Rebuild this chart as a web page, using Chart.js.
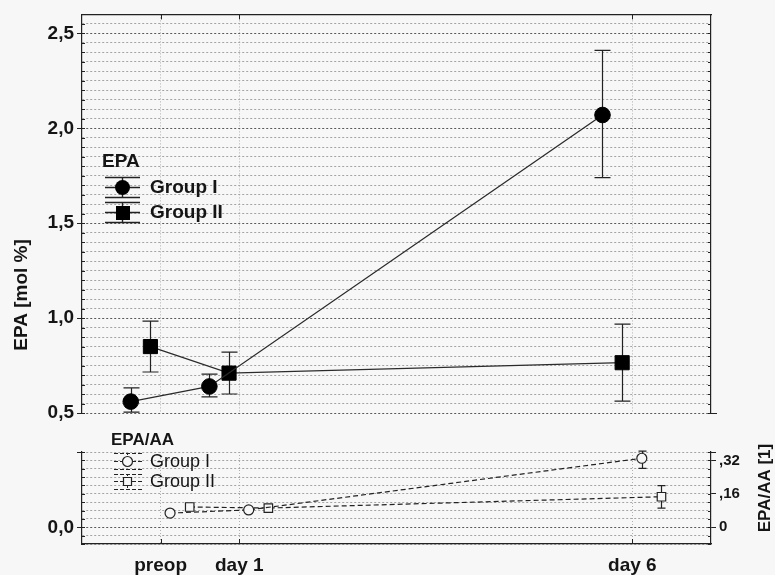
<!DOCTYPE html>
<html>
<head>
<meta charset="utf-8">
<script src="https://cdn.jsdelivr.net/npm/chart.js@4/dist/chart.umd.min.js"></script>
<style>
  html, body { margin: 0; padding: 0; background: #f7f7f7; }
  #wrap { position: relative; width: 775px; height: 575px; overflow: hidden; }
  #epaChart { position: absolute; left: 0; top: 0; }
  #ratioChart { position: absolute; left: 0; top: 420px; }
</style>
</head>
<body>
<div id="wrap">
  <canvas id="epaChart" width="775" height="445"></canvas>
  <canvas id="ratioChart" width="775" height="155"></canvas>
</div>
<script>
// time points (days after surgery)
const days = [0, 1, 6];
const dayLabels = ['preop', 'day 1', 'day 6'];

// EPA [mol %] - mean, lower and upper error bar
const epaGroup1 = [0.56, 0.64, 2.07];
const epaGroup1Low = [0.505, 0.585, 1.74];
const epaGroup1High = [0.632, 0.705, 2.41];
const epaGroup2 = [0.85, 0.71, 0.765];
const epaGroup2Low = [0.716, 0.60, 0.563];
const epaGroup2High = [0.984, 0.821, 0.968];

// EPA/AA ratio
const ratioGroup1 = [0.068, 0.083, 0.33];
const ratioGroup1Low = [0.066, 0.081, 0.282];
const ratioGroup1High = [0.070, 0.085, 0.364];
const ratioGroup2 = [0.097, 0.092, 0.146];
const ratioGroup2Low = [0.095, 0.090, 0.092];
const ratioGroup2High = [0.099, 0.094, 0.199];

// tick labels
const epaTickValues = [0.5, 1.0, 1.5, 2.0, 2.5];
const epaTickLabels = ['0,5', '1,0', '1,5', '2,0', '2,5'];
const ratioLeftValues = [0];
const ratioLeftLabels = ['0,0'];
const ratioRightValues = [0, 0.16, 0.32];
const ratioRightLabels = ['0', ',16', ',32'];

// small horizontal shift so the groups don't overlap
const epaShift = [-0.38, -0.13];
const ratioShift = [0.12, 0.37];

const FONT = "'Liberation Sans', Arial, sans-serif";
const INK = '#151515';

function stepTicks(min, max, step) {
  const out = [];
  const n = Math.round((max - min) / step);
  for (let i = 0; i <= n; i++) out.push({ value: +(min + i * step).toFixed(4) });
  return out;
}
function labelFor(values, labels, v) {
  const i = values.findIndex(t => Math.abs(t - v) < 1e-6);
  return i < 0 ? '' : labels[i];
}
function isIn(values, v) {
  return values.some(t => Math.abs(t - v) < 1e-6);
}

// vertical error bars with caps, drawn under the markers
const errorBars = {
  id: 'errorBars',
  beforeDatasetsDraw(chart) {
    const ctx = chart.ctx;
    chart.data.datasets.forEach((ds, di) => {
      if (!ds.errLow) return;
      const meta = chart.getDatasetMeta(di);
      const ys = chart.scales[meta.yAxisID];
      ctx.save();
      ctx.strokeStyle = '#222';
      ctx.lineWidth = 1.2;
      meta.data.forEach((pt, i) => {
        const x = Math.round(pt.x) + 0.5;
        const yl = ys.getPixelForValue(ds.errLow[i]);
        const yh = ys.getPixelForValue(ds.errHigh[i]);
        ctx.beginPath();
        ctx.moveTo(x, yl); ctx.lineTo(x, yh);
        ctx.moveTo(x - ds.capHalf, yl); ctx.lineTo(x + ds.capHalf, yl);
        ctx.moveTo(x - ds.capHalf, yh); ctx.lineTo(x + ds.capHalf, yh);
        ctx.stroke();
      });
      ctx.restore();
    });
  }
};

// small inner tick marks on the frame
const frameTicks = {
  id: 'frameTicks',
  afterDraw(chart, args, opts) {
    const { ctx, chartArea: a } = chart;
    const xs = chart.scales.x, ys = chart.scales.y;
    ctx.save();
    ctx.strokeStyle = '#222';
    ctx.lineWidth = 1;
    ctx.beginPath();
    xs.ticks.forEach(t => {
      const px = Math.round(xs.getPixelForValue(t.value)) + 0.5;
      if (opts.top) { ctx.moveTo(px, a.top); ctx.lineTo(px, a.top + 5); }
      else { ctx.moveTo(px, a.bottom); ctx.lineTo(px, a.bottom - 5); }
    });
    ys.ticks.forEach(t => {
      const py = Math.round(ys.getPixelForValue(t.value)) + 0.5;
      ctx.moveTo(a.left, py); ctx.lineTo(a.left + 3, py);
      ctx.moveTo(a.right, py); ctx.lineTo(a.right - 3, py);
    });
    if (opts.top) {
      ctx.moveTo(a.right, a.bottom + 0.5); ctx.lineTo(a.right + 6, a.bottom + 0.5);
    } else {
      ctx.moveTo(a.left - 5, a.top + 0.5); ctx.lineTo(a.left, a.top + 0.5);
      ctx.moveTo(a.right, a.top + 0.5); ctx.lineTo(a.right + 5, a.top + 0.5);
    }
    ctx.stroke();
    ctx.restore();
  }
};

// legend + axis titles of the upper panel
const epaDecor = {
  id: 'epaDecor',
  afterDraw(chart) {
    const ctx = chart.ctx;
    ctx.save();
    ctx.fillStyle = INK;
    ctx.textBaseline = 'middle';
    // y title
    ctx.save();
    ctx.translate(22, 295);
    ctx.rotate(-Math.PI / 2);
    ctx.textAlign = 'center';
    ctx.font = 'bold 19px ' + FONT;
    ctx.fillText('EPA [mol %]', 0, 0);
    ctx.restore();
    // legend
    ctx.font = 'bold 19px ' + FONT;
    ctx.fillText('EPA', 102, 162);
    const rows = [
      { y: 187, top: 177, bot: 197, name: 'Group I', shape: 'circle' },
      { y: 212, top: 202, bot: 222, name: 'Group II', shape: 'rect' }
    ];
    ctx.strokeStyle = '#222';
    ctx.lineWidth = 1.4;
    rows.forEach(r => {
      ctx.beginPath();
      ctx.moveTo(105, r.top + 0.5); ctx.lineTo(140, r.top + 0.5);
      ctx.moveTo(105, r.bot + 0.5); ctx.lineTo(140, r.bot + 0.5);
      ctx.moveTo(105, r.y + 0.5); ctx.lineTo(140, r.y + 0.5);
      ctx.moveTo(122.5, r.top); ctx.lineTo(122.5, r.bot);
      ctx.stroke();
      ctx.fillStyle = '#000';
      ctx.beginPath();
      if (r.shape === 'circle') ctx.arc(122.5, r.y + 0.5, 7.5, 0, Math.PI * 2);
      else ctx.rect(116, r.y - 6, 14, 14);
      ctx.fill();
      ctx.fillStyle = INK;
      ctx.fillText(r.name, 150, r.y + 1);
    });
    ctx.restore();
  }
};

// legend + right title of the lower panel
const ratioDecor = {
  id: 'ratioDecor',
  afterDraw(chart) {
    const ctx = chart.ctx;
    const off = 420;
    ctx.save();
    ctx.fillStyle = INK;
    ctx.textBaseline = 'middle';
    // right title
    ctx.save();
    ctx.translate(765, 488 - off);
    ctx.rotate(-Math.PI / 2);
    ctx.textAlign = 'center';
    ctx.font = 'bold 17px ' + FONT;
    ctx.fillText('EPA/AA [1]', 0, 0);
    ctx.restore();
    // legend
    ctx.font = 'bold 17px ' + FONT;
    ctx.fillText('EPA/AA', 111, 440 - off);
    const rows = [
      { y: 461, top: 453, bot: 469, name: 'Group I', shape: 'circle' },
      { y: 481, top: 474, bot: 489, name: 'Group II', shape: 'rect' }
    ];
    ctx.strokeStyle = '#222';
    ctx.lineWidth = 1;
    rows.forEach(r => {
      const y = r.y - off, t = r.top - off, b = r.bot - off;
      ctx.setLineDash([4, 2]);
      ctx.beginPath();
      ctx.moveTo(114, t + 0.5); ctx.lineTo(142, t + 0.5);
      ctx.moveTo(114, b + 0.5); ctx.lineTo(142, b + 0.5);
      ctx.moveTo(114, y + 0.5); ctx.lineTo(142, y + 0.5);
      ctx.stroke();
      ctx.setLineDash([2, 2]);
      ctx.beginPath();
      ctx.moveTo(127.5, t); ctx.lineTo(127.5, b);
      ctx.stroke();
      ctx.setLineDash([]);
      ctx.fillStyle = '#f7f7f7';
      ctx.lineWidth = 1.2;
      ctx.beginPath();
      if (r.shape === 'circle') ctx.arc(127.5, y + 0.5, 5, 0, Math.PI * 2);
      else ctx.rect(123.5, y - 3.5, 8, 8);
      ctx.fill();
      ctx.stroke();
      ctx.lineWidth = 1;
      ctx.fillStyle = INK;
      ctx.font = '18px ' + FONT;
      ctx.fillText(r.name, 150, y + 1);
    });
    ctx.restore();
  }
};

const dayAxisTicks = s => { s.ticks = days.map(v => ({ value: v })); };

// upper panel: EPA [mol %]
new Chart(document.getElementById('epaChart'), {
  type: 'line',
  data: {
    datasets: [
      {
        label: 'Group I',
        data: days.map((d, i) => ({ x: d + epaShift[0], y: epaGroup1[i] })),
        errLow: epaGroup1Low, errHigh: epaGroup1High, capHalf: 8,
        borderColor: '#2b2b2b', borderWidth: 1.3,
        pointStyle: 'circle', pointRadius: 7.8,
        pointBackgroundColor: '#000', pointBorderColor: '#000', pointBorderWidth: 1
      },
      {
        label: 'Group II',
        data: days.map((d, i) => ({ x: d + epaShift[1], y: epaGroup2[i] })),
        errLow: epaGroup2Low, errHigh: epaGroup2High, capHalf: 8,
        borderColor: '#2b2b2b', borderWidth: 1.3,
        pointStyle: 'rect', pointRadius: 10,
        pointBackgroundColor: '#000', pointBorderColor: '#000', pointBorderWidth: 1
      }
    ]
  },
  options: {
    responsive: false,
    animation: false,
    layout: { padding: { top: 13, bottom: 32, left: 0, right: 0 } },
    plugins: { legend: { display: false }, tooltip: { enabled: false }, frameTicks: { top: true } },
    scales: {
      x: {
        type: 'linear', min: -1, max: 7, position: 'bottom',
        afterBuildTicks: dayAxisTicks,
        ticks: { display: false },
        grid: { color: '#b0b0b0', drawTicks: false },
        border: { display: false, dash: [1, 2] },
        afterFit: s => { s.height = 0; }
      },
      xTop: {
        type: 'linear', min: -1, max: 7, position: 'top',
        ticks: { display: false },
        grid: { drawOnChartArea: false, drawTicks: false },
        border: { color: '#222', width: 1.2 },
        afterFit: s => { s.height = 0; }
      },
      y: {
        min: 0.5, max: 2.6,
        afterBuildTicks: s => { s.ticks = stepTicks(0.5, 2.6, 0.05); },
        ticks: {
          autoSkip: false,
          callback: v => labelFor(epaTickValues, epaTickLabels, v),
          font: { family: FONT, weight: 'bold', size: 19 },
          color: INK, padding: 3
        },
        grid: {
          color: c => isIn(epaTickValues, c.tick.value) ? '#5a5a5a' : '#a4a4a4',
          tickLength: 5,
          tickColor: c => isIn(epaTickValues, c.tick.value) ? '#222' : 'rgba(0,0,0,0)'
        },
        border: { color: '#222', width: 1.2, dash: [2, 2] },
        afterFit: s => { s.width = 82; }
      },
      yR: {
        position: 'right', min: 0.5, max: 2.6,
        ticks: { display: false },
        grid: { drawOnChartArea: false, drawTicks: false },
        border: { color: '#222', width: 1.2 },
        afterFit: s => { s.width = 64; }
      }
    }
  },
  plugins: [errorBars, frameTicks, epaDecor]
});

// lower panel: EPA/AA ratio
new Chart(document.getElementById('ratioChart'), {
  type: 'line',
  data: {
    datasets: [
      {
        label: 'Group I',
        data: days.map((d, i) => ({ x: d + ratioShift[0], y: ratioGroup1[i] })),
        errLow: ratioGroup1Low, errHigh: ratioGroup1High, capHalf: 4,
        borderColor: '#222', borderWidth: 1.2, borderDash: [5, 3],
        pointStyle: 'circle', pointRadius: 5,
        pointBackgroundColor: '#f7f7f7', pointBorderColor: '#222', pointBorderWidth: 1.2
      },
      {
        label: 'Group II',
        data: days.map((d, i) => ({ x: d + ratioShift[1], y: ratioGroup2[i] })),
        errLow: ratioGroup2Low, errHigh: ratioGroup2High, capHalf: 4,
        borderColor: '#222', borderWidth: 1.2, borderDash: [5, 3],
        pointStyle: 'rect', pointRadius: 6,
        pointBackgroundColor: '#f7f7f7', pointBorderColor: '#222', pointBorderWidth: 1.2
      }
    ]
  },
  options: {
    responsive: false,
    animation: false,
    layout: { padding: { top: 32, bottom: 0, left: 0, right: 0 } },
    plugins: { legend: { display: false }, tooltip: { enabled: false }, frameTicks: { top: false } },
    scales: {
      x: {
        type: 'linear', min: -1, max: 7, position: 'bottom',
        afterBuildTicks: dayAxisTicks,
        ticks: {
          autoSkip: false, maxRotation: 0,
          callback: v => dayLabels[days.indexOf(v)],
          font: { family: FONT, weight: 'bold', size: 19 },
          color: INK, padding: 10
        },
        grid: { color: '#b0b0b0', drawTicks: false },
        border: { color: '#222', width: 1.2, dash: [1, 2] },
        afterFit: s => { s.height = 31; }
      },
      y: {
        min: -0.08, max: 0.36,
        afterBuildTicks: s => { s.ticks = stepTicks(-0.08, 0.36, 0.04); },
        ticks: {
          autoSkip: false,
          callback: v => labelFor(ratioLeftValues, ratioLeftLabels, v),
          font: { family: FONT, weight: 'bold', size: 19 },
          color: INK, padding: 3
        },
        grid: {
          color: c => isIn(ratioLeftValues, c.tick.value) ? '#5a5a5a' : '#a4a4a4',
          tickLength: 5,
          tickColor: c => isIn(ratioLeftValues, c.tick.value) ? '#222' : 'rgba(0,0,0,0)'
        },
        border: { color: '#222', width: 1.2, dash: [2, 2] },
        afterFit: s => { s.width = 82; }
      },
      yR: {
        position: 'right', min: -0.08, max: 0.36,
        afterBuildTicks: s => { s.ticks = stepTicks(-0.08, 0.36, 0.04); },
        ticks: {
          autoSkip: false,
          callback: v => labelFor(ratioRightValues, ratioRightLabels, v),
          font: { family: FONT, weight: 'bold', size: 15 },
          color: INK, padding: 3
        },
        grid: {
          drawOnChartArea: false,
          tickLength: 5,
          tickColor: c => isIn(ratioRightValues, c.tick.value) ? '#222' : 'rgba(0,0,0,0)'
        },
        border: { color: '#222', width: 1.2 },
        afterFit: s => { s.width = 64; }
      }
    }
  },
  plugins: [errorBars, frameTicks, ratioDecor]
});
</script>
</body>
</html>
